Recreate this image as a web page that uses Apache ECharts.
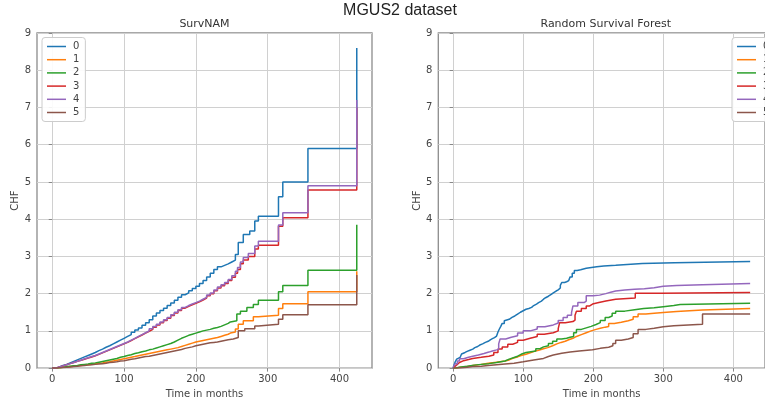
<!DOCTYPE html>
<html>
<head>
<meta charset="utf-8">
<title>MGUS2 dataset</title>
<script src="https://cdn.jsdelivr.net/npm/echarts@6/dist/echarts.min.js"></script>
<style>
  html, body { margin: 0; padding: 0; background: #fff; }
  #chart { width: 765px; height: 404px; }
</style>
</head>
<body>
<div id="chart"></div>
<script>
// group labels and colours (matplotlib tab10)
const groupNames = ['0', '1', '2', '3', '4', '5']
const groupColors = ['#1f77b4', '#ff7f0e', '#2ca02c', '#d62728', '#9467bd', '#8c564b']

const xTicks = [0, 100, 200, 300, 400]
const yTicks = [0, 1, 2, 3, 4, 5, 6, 7, 8, 9]

// SurvNAM cumulative hazard, [month, CHF]
const nam0 = [[0,0],[5,0.03],[10,0.07],[15,0.1],[20,0.14],[25,0.18],[30,0.22],[35,0.26],[40,0.3],[45,0.34],[50,0.38],[55,0.42],[60,0.47],[65,0.51],[70,0.56],[75,0.6],[80,0.65],[85,0.7],[90,0.75],[95,0.8],[100,0.85],[105,0.9],[110,0.96],[115,1.02],[120,1.08],[125,1.15],[130,1.22],[135,1.3],[140,1.4],[145,1.48],[150,1.55],[155,1.61],[160,1.68],[165,1.75],[170,1.82],[175,1.9],[180,1.97],[185,2.02],[190,2.08],[195,2.14],[200,2.2],[205,2.27],[210,2.35],[215,2.45],[220,2.55],[225,2.65],[230,2.72],[235,2.76],[240,2.8],[245,2.85],[250,2.9],[255,3.05],[259,3.37],[266,3.59],[275,3.68],[282,3.95],[287,4.08],[315,4.6],[321,5.0],[356,5.9],[424,8.6]]
const nam1 = [[0,0],[5,0.01],[10,0.02],[15,0.03],[20,0.04],[25,0.05],[30,0.06],[35,0.07],[40,0.08],[45,0.09],[50,0.1],[55,0.12],[60,0.13],[65,0.14],[70,0.16],[75,0.17],[80,0.19],[85,0.21],[90,0.23],[95,0.25],[100,0.27],[105,0.29],[110,0.31],[115,0.33],[120,0.35],[125,0.37],[130,0.39],[135,0.41],[140,0.43],[145,0.45],[150,0.47],[155,0.49],[160,0.51],[165,0.53],[170,0.55],[175,0.58],[180,0.61],[185,0.64],[190,0.67],[195,0.7],[200,0.72],[205,0.74],[210,0.76],[215,0.78],[220,0.8],[225,0.82],[230,0.85],[235,0.88],[240,0.91],[245,0.94],[248,0.97],[255,1.05],[259,1.18],[266,1.27],[280,1.38],[287,1.42],[315,1.6],[321,1.73],[356,2.05],[424,2.6]]
const nam2 = [[0,0],[5,0.01],[10,0.02],[15,0.04],[20,0.05],[25,0.06],[30,0.07],[35,0.09],[40,0.1],[45,0.11],[50,0.13],[55,0.14],[60,0.16],[65,0.18],[70,0.2],[75,0.22],[80,0.24],[85,0.26],[90,0.29],[95,0.31],[100,0.34],[105,0.36],[110,0.39],[115,0.41],[120,0.44],[125,0.46],[130,0.49],[135,0.51],[140,0.54],[145,0.57],[150,0.6],[155,0.63],[160,0.66],[165,0.7],[170,0.75],[175,0.8],[180,0.84],[185,0.88],[190,0.91],[195,0.94],[200,0.97],[205,1.0],[210,1.02],[215,1.04],[220,1.07],[225,1.09],[230,1.12],[235,1.16],[240,1.2],[245,1.24],[248,1.27],[257,1.45],[262,1.53],[271,1.63],[280,1.71],[287,1.82],[315,2.05],[321,2.22],[356,2.63],[424,3.85]]
const nam3 = [[0,0],[5,0.03],[10,0.06],[15,0.09],[20,0.12],[25,0.15],[30,0.18],[35,0.21],[40,0.24],[45,0.27],[50,0.3],[55,0.33],[60,0.37],[65,0.41],[70,0.45],[75,0.49],[80,0.53],[85,0.57],[90,0.61],[95,0.65],[100,0.69],[105,0.74],[110,0.79],[115,0.84],[120,0.89],[125,0.94],[130,0.99],[135,1.04],[140,1.1],[145,1.16],[150,1.22],[155,1.28],[160,1.34],[165,1.41],[170,1.48],[175,1.55],[180,1.61],[185,1.66],[190,1.7],[195,1.74],[200,1.78],[205,1.83],[210,1.88],[215,1.94],[220,2.0],[225,2.08],[230,2.15],[235,2.21],[240,2.27],[245,2.35],[250,2.44],[255,2.55],[258,2.65],[262,2.8],[266,2.9],[273,3.0],[282,3.2],[287,3.3],[315,3.81],[321,4.04],[356,4.78],[424,7.0]]
const nam4 = [[0,0],[5,0.03],[10,0.06],[15,0.09],[20,0.12],[25,0.15],[30,0.18],[35,0.21],[40,0.25],[45,0.28],[50,0.31],[55,0.34],[60,0.38],[65,0.42],[70,0.46],[75,0.5],[80,0.54],[85,0.58],[90,0.62],[95,0.66],[100,0.7],[105,0.75],[110,0.8],[115,0.85],[120,0.9],[125,0.95],[130,1.0],[135,1.06],[140,1.12],[145,1.18],[150,1.24],[155,1.3],[160,1.36],[165,1.43],[170,1.5],[175,1.57],[180,1.63],[185,1.68],[190,1.72],[195,1.76],[200,1.8],[205,1.85],[210,1.9],[215,1.96],[220,2.02],[225,2.1],[230,2.18],[235,2.24],[240,2.3],[245,2.38],[250,2.48],[255,2.6],[258,2.7],[262,2.85],[266,2.97],[273,3.08],[282,3.28],[287,3.41],[315,3.84],[321,4.17],[356,4.9],[424,7.2]]
const nam5 = [[0,0],[5,0.01],[10,0.015],[15,0.02],[20,0.03],[25,0.04],[30,0.05],[35,0.06],[40,0.07],[45,0.08],[50,0.09],[55,0.1],[60,0.11],[65,0.12],[70,0.13],[75,0.15],[80,0.16],[85,0.17],[90,0.19],[95,0.2],[100,0.22],[105,0.24],[110,0.25],[115,0.27],[120,0.29],[125,0.31],[130,0.32],[135,0.34],[140,0.36],[145,0.38],[150,0.4],[155,0.42],[160,0.44],[165,0.46],[170,0.48],[175,0.5],[180,0.53],[185,0.55],[190,0.57],[195,0.6],[200,0.62],[205,0.64],[210,0.66],[215,0.68],[220,0.69],[225,0.7],[230,0.72],[235,0.74],[240,0.76],[245,0.78],[252,0.82],[259,1.0],[268,1.06],[282,1.13],[287,1.18],[315,1.31],[321,1.43],[356,1.7],[424,2.5]]

// Random Survival Forest cumulative hazard
const rsf0 = [[0,0],[1,0.07],[2,0.12],[3,0.17],[5,0.24],[7,0.29],[10,0.33],[12,0.38],[14,0.42],[17,0.45],[20,0.48],[24,0.51],[28,0.55],[31,0.58],[35,0.62],[38,0.65],[42,0.69],[46,0.72],[50,0.76],[53,0.79],[56,0.82],[59,0.86],[62,0.9],[64,0.97],[66,1.05],[68,1.12],[70,1.2],[73,1.27],[75,1.31],[80,1.36],[84,1.4],[88,1.45],[92,1.5],[96,1.54],[100,1.58],[104,1.6],[108,1.63],[112,1.68],[115,1.72],[119,1.76],[122,1.8],[126,1.85],[129,1.89],[132,1.93],[136,1.98],[140,2.02],[143,2.07],[147,2.1],[150,2.15],[153,2.22],[155,2.3],[159,2.32],[162,2.35],[165,2.4],[167,2.45],[170,2.55],[173,2.62],[177,2.64],[182,2.66],[186,2.68],[190,2.72],[205,2.74],[215,2.76],[232,2.81],[270,2.83],[316,2.86],[424,2.87]]
const rsf1 = [[0,0],[5,0.02],[10,0.04],[20,0.07],[28,0.1],[40,0.13],[50,0.16],[62,0.19],[74,0.22],[80,0.27],[86,0.3],[92,0.34],[97,0.37],[104,0.41],[110,0.45],[116,0.48],[122,0.52],[129,0.55],[135,0.6],[142,0.65],[148,0.69],[154,0.72],[160,0.76],[165,0.8],[171,0.85],[176,0.9],[183,0.95],[190,1.0],[197,1.04],[204,1.07],[210,1.1],[217,1.12],[222,1.2],[230,1.23],[240,1.27],[250,1.31],[257,1.38],[264,1.45],[275,1.47],[287,1.49],[300,1.52],[319,1.56],[356,1.6],[424,1.6]]
const rsf2 = [[0,0],[4,0.02],[9,0.05],[20,0.08],[30,0.1],[40,0.12],[51,0.15],[62,0.19],[74,0.24],[80,0.28],[86,0.32],[92,0.37],[97,0.42],[104,0.44],[111,0.46],[118,0.52],[124,0.57],[129,0.6],[136,0.66],[142,0.72],[148,0.78],[155,0.8],[162,0.83],[167,0.85],[172,0.95],[176,1.04],[183,1.08],[190,1.12],[197,1.17],[204,1.22],[210,1.28],[217,1.36],[222,1.4],[227,1.47],[232,1.53],[245,1.57],[259,1.6],[272,1.62],[287,1.65],[300,1.68],[315,1.71],[324,1.74],[424,1.74]]
const rsf3 = [[0,0],[1,0.05],[3,0.1],[6,0.15],[9,0.2],[15,0.23],[22,0.26],[28,0.29],[40,0.32],[51,0.35],[58,0.42],[64,0.51],[70,0.57],[78,0.64],[85,0.69],[92,0.75],[100,0.8],[110,0.85],[120,0.91],[130,0.95],[143,1.0],[150,1.06],[152,1.22],[160,1.25],[171,1.29],[174,1.42],[176,1.53],[183,1.6],[190,1.67],[195,1.72],[199,1.76],[208,1.8],[218,1.85],[232,1.88],[260,2.01],[297,2.03],[424,2.04]]
const rsf4 = [[0,0],[1,0.06],[3,0.12],[6,0.19],[9,0.25],[15,0.29],[22,0.32],[28,0.35],[36,0.39],[44,0.43],[51,0.46],[56,0.49],[62,0.51],[65,0.65],[67,0.78],[75,0.83],[83,0.87],[92,0.94],[100,1.0],[110,1.05],[120,1.11],[131,1.16],[143,1.21],[150,1.28],[157,1.36],[163,1.42],[169,1.49],[171,1.67],[178,1.76],[187,1.8],[190,1.94],[200,1.96],[209,2.0],[218,2.04],[225,2.07],[232,2.1],[245,2.12],[259,2.13],[273,2.16],[287,2.2],[300,2.22],[319,2.24],[356,2.27],[424,2.28]]
const rsf5 = [[0,0],[10,0.02],[20,0.04],[28,0.05],[40,0.07],[50,0.09],[62,0.11],[74,0.13],[87,0.17],[100,0.22],[115,0.26],[129,0.31],[136,0.35],[143,0.4],[155,0.43],[167,0.46],[180,0.49],[199,0.53],[210,0.56],[222,0.6],[228,0.66],[232,0.75],[240,0.78],[250,0.82],[257,0.92],[264,1.04],[275,1.07],[287,1.11],[300,1.14],[315,1.18],[356,1.45],[424,1.45]]

const namCurves = [nam0, nam1, nam2, nam3, nam4, nam5]
const rsfCurves = [rsf0, rsf1, rsf2, rsf3, rsf4, rsf5]

const chart = echarts.init(document.getElementById('chart'))

const font = 'DejaVu Sans'
const gridLeft = 37
const gridRight = 438.3
const plotW = 335
const plotTop = 33
const plotH = 336

const makeX = (idx) => ({
  type: 'value',
  gridIndex: idx,
  min: -21.2,
  max: 445.2,
  interval: 100,
  name: 'Time in months',
  nameLocation: 'middle',
  nameGap: 14,
  nameTextStyle: { color: '#444', fontSize: 10, fontFamily: font },
  axisLine: { show: false },
  axisTick: { show: true, length: 3.5, lineStyle: { color: '#888', width: 1 },
    customValues: xTicks },
  axisLabel: {
    color: '#444', fontSize: 10, fontFamily: font, margin: 6,
    customValues: xTicks
  },
  splitLine: { show: true, lineStyle: { color: '#d0d0d0', width: 1 } }
})

const makeY = (idx) => ({
  type: 'value',
  gridIndex: idx,
  min: 0,
  max: 9,
  interval: 1,
  name: 'CHF',
  nameLocation: 'middle',
  nameGap: 12,
  nameTextStyle: { color: '#444', fontSize: 10, fontFamily: font },
  axisLine: { show: false },
  axisTick: { show: true, length: 3.5, lineStyle: { color: '#888', width: 1 } },
  axisLabel: { color: '#444', fontSize: 10, fontFamily: font, margin: 6,
    formatter: (v) => yTicks.includes(v) ? String(v) : '' },
  splitLine: { show: true, lineStyle: { color: '#d0d0d0', width: 1 } }
})

const makeSeries = (curves, axisIdx) => curves.map((pts, i) => ({
  name: groupNames[i],
  type: 'line',
  step: 'end',
  xAxisIndex: axisIdx,
  yAxisIndex: axisIdx,
  data: pts,
  showSymbol: false,
  symbol: 'none',
  animation: false,
  lineStyle: { color: groupColors[i], width: 1.5 },
  itemStyle: { color: groupColors[i] },
  z: 3 + i
}))

const makeLegend = (left) => ({
  orient: 'vertical',
  left: left,
  top: 37.5,
  data: groupNames,
  icon: 'rect',
  itemWidth: 19,
  itemHeight: 1.5,
  itemGap: 1.2,
  padding: [3, 6, 3, 5],
  backgroundColor: 'rgba(255,255,255,0.9)',
  borderColor: '#cccccc',
  borderWidth: 1,
  borderRadius: 3,
  selectedMode: false,
  textStyle: { color: '#444', fontSize: 10, fontFamily: font, lineHeight: 12, padding: [0, 0, 0, 2] }
})

const option = {
  animation: false,
  backgroundColor: '#ffffff',
  color: groupColors,
  graphic: [
    { type: 'text', x: 400, y: 11,
      style: { text: 'MGUS2 dataset', fontSize: 16, fill: '#222', fontFamily: 'Liberation Sans',
        align: 'center', verticalAlign: 'middle' } },
    { type: 'text', x: gridLeft + plotW / 2, y: 24,
      style: { text: 'SurvNAM', fontSize: 11, fill: '#333', fontFamily: font,
        align: 'center', verticalAlign: 'middle' } },
    { type: 'text', x: gridRight + plotW / 2, y: 24,
      style: { text: 'Random Survival Forest', fontSize: 11, fill: '#333', fontFamily: font,
        align: 'center', verticalAlign: 'middle' } }
  ],
  legend: [makeLegend(42), makeLegend(732)],
  grid: [
    { left: gridLeft, top: plotTop, width: plotW, height: plotH, show: true,
      borderColor: '#8c8c8c', borderWidth: 1.3, backgroundColor: 'transparent' },
    { left: gridRight, top: plotTop, width: plotW, height: plotH, show: true,
      borderColor: '#8c8c8c', borderWidth: 1.3, backgroundColor: 'transparent' }
  ],
  xAxis: [makeX(0), makeX(1)],
  yAxis: [makeY(0), makeY(1)],
  series: [...makeSeries(namCurves, 0), ...makeSeries(rsfCurves, 1)]
}

chart.setOption(option)
</script>
</body>
</html>
